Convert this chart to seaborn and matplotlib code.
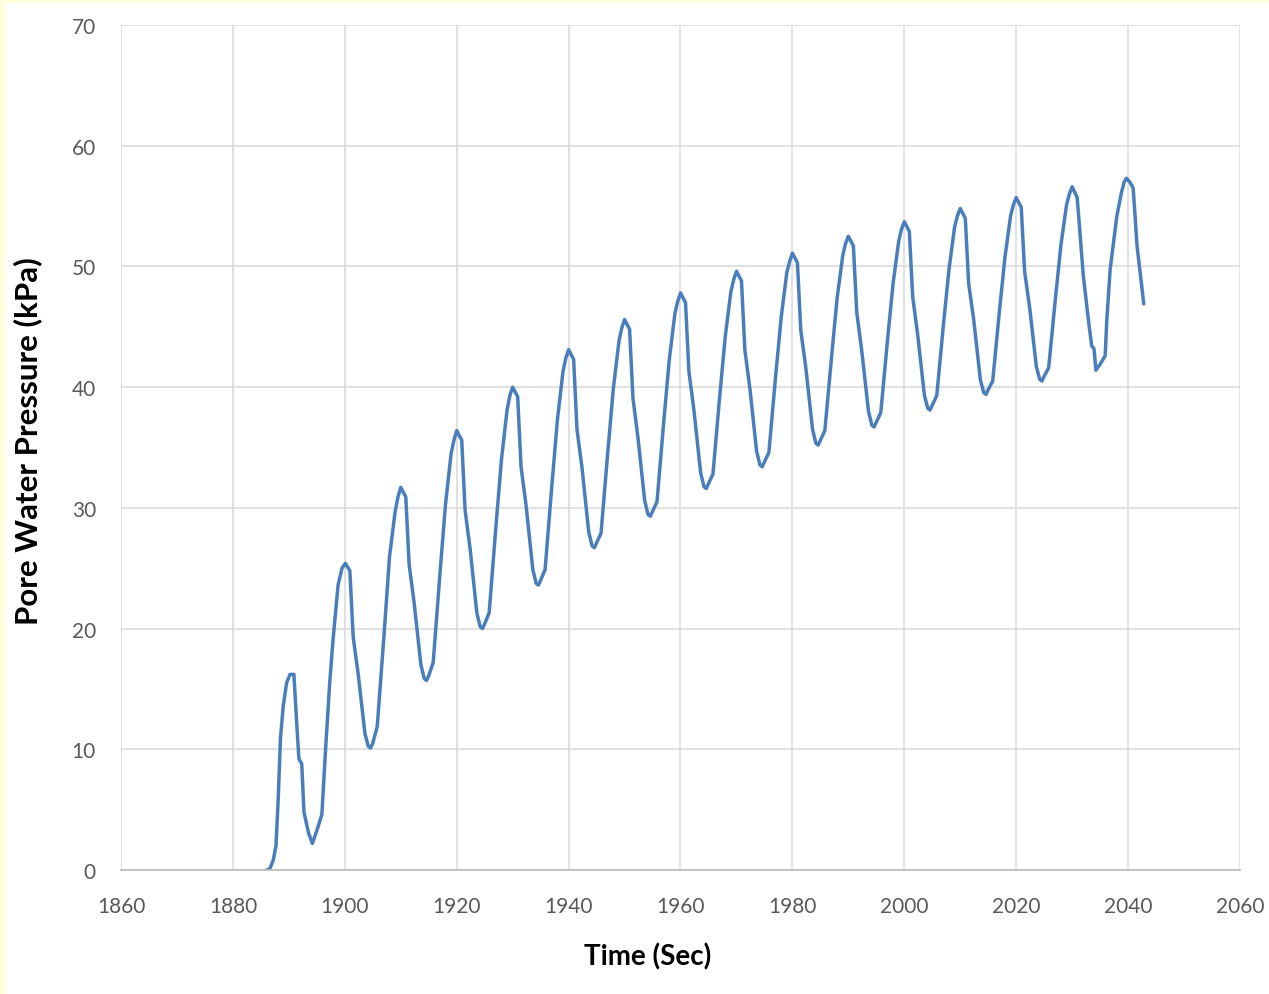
import matplotlib
matplotlib.use('Agg')
import matplotlib.pyplot as plt
from matplotlib.patches import Rectangle
import pandas as pd
import seaborn as sns

sns.set_theme(style='whitegrid')
plt.rcParams['font.family'] = ['Lato', 'DejaVu Sans']

# time (sec) and pore water pressure (kPa), one row per cycle
time_sec = [
    1886.0, 1886.6, 1887.2, 1887.7, 1888.1, 1888.5, 1889.0, 1889.6, 1890.2, 1890.9,
    1891.4, 1891.8, 1892.3, 1892.7, 1893.5, 1894.2, 1895.1, 1895.9, 1896.5, 1897.3, 1897.9, 1898.8, 1899.5,
    1900.1, 1900.9, 1901.5, 1902.4, 1903.6, 1904.2, 1904.6, 1905.0, 1905.8, 1907.0, 1908.0, 1909.0, 1909.5,
    1910.0, 1910.9, 1911.5, 1912.4, 1913.6, 1914.2, 1914.6, 1915.0, 1915.8, 1917.0, 1918.0, 1919.0, 1919.5,
    1920.0, 1920.9, 1921.5, 1922.4, 1923.6, 1924.2, 1924.6, 1925.0, 1925.8, 1927.0, 1928.0, 1929.0, 1929.5,
    1930.0, 1930.9, 1931.5, 1932.4, 1933.6, 1934.2, 1934.6, 1935.0, 1935.8, 1937.0, 1938.0, 1939.0, 1939.5,
    1940.0, 1940.9, 1941.5, 1942.4, 1943.6, 1944.2, 1944.6, 1945.0, 1945.8, 1947.0, 1948.0, 1949.0, 1949.5,
    1950.0, 1950.9, 1951.5, 1952.4, 1953.6, 1954.2, 1954.6, 1955.0, 1955.8, 1957.0, 1958.0, 1959.0, 1959.5,
    1960.0, 1960.9, 1961.5, 1962.4, 1963.6, 1964.2, 1964.6, 1965.0, 1965.8, 1967.0, 1968.0, 1969.0, 1969.5,
    1970.0, 1970.9, 1971.5, 1972.4, 1973.6, 1974.2, 1974.6, 1975.0, 1975.8, 1977.0, 1978.0, 1979.0, 1979.5,
    1980.0, 1980.9, 1981.5, 1982.4, 1983.6, 1984.2, 1984.6, 1985.0, 1985.8, 1987.0, 1988.0, 1989.0, 1989.5,
    1990.0, 1990.9, 1991.5, 1992.4, 1993.6, 1994.2, 1994.6, 1995.0, 1995.8, 1997.0, 1998.0, 1999.0, 1999.5,
    2000.0, 2000.9, 2001.5, 2002.4, 2003.6, 2004.2, 2004.6, 2005.0, 2005.8, 2007.0, 2008.0, 2009.0, 2009.5,
    2010.0, 2010.9, 2011.5, 2012.4, 2013.6, 2014.2, 2014.6, 2015.0, 2015.8, 2017.0, 2018.0, 2019.0, 2019.5,
    2020.0, 2020.9, 2021.5, 2022.4, 2023.6, 2024.2, 2024.6, 2025.0, 2025.8, 2027.0, 2028.0, 2029.0, 2029.5,
    2030.0, 2030.9, 2031.5, 2032.0, 2033.0, 2033.5, 2033.9, 2034.25, 2035.0, 2035.9, 2036.2, 2036.8, 2038.0, 2038.8, 2039.3,
    2039.7, 2040.3, 2040.9, 2041.2, 2041.6, 2042.8,
]
pwp_kpa = [
    0.0, 0.1, 0.8, 2.0, 5.9, 10.9, 13.6, 15.5, 16.2, 16.2,
    12.2, 9.2, 8.8, 4.8, 3.1, 2.2, 3.4, 4.6, 9.5, 15.5, 19.1, 23.6, 25.0,
    25.4, 24.8, 19.3, 16.2, 11.3, 10.25, 10.1, 10.5, 11.9, 19.4, 26.0, 29.7, 30.9,
    31.7, 30.9, 25.3, 22.1, 17.0, 15.85, 15.7, 16.1, 17.2, 24.5, 30.3, 34.5, 35.6,
    36.4, 35.6, 29.8, 26.6, 21.3, 20.15, 20.0, 20.4, 21.3, 28.4, 34.0, 38.1, 39.3,
    40.0, 39.2, 33.4, 30.2, 24.9, 23.75, 23.6, 24.0, 24.9, 31.8, 37.3, 41.3, 42.4,
    43.1, 42.3, 36.5, 33.3, 28.0, 26.85, 26.7, 27.1, 27.9, 34.6, 39.9, 43.8, 44.9,
    45.6, 44.8, 39.1, 35.8, 30.6, 29.45, 29.3, 29.7, 30.5, 37.1, 42.3, 46.1, 47.1,
    47.8, 47.0, 41.3, 38.1, 32.9, 31.75, 31.6, 32.0, 32.8, 39.2, 44.2, 47.9, 48.9,
    49.6, 48.8, 43.1, 39.9, 34.7, 33.55, 33.4, 33.8, 34.6, 40.9, 45.8, 49.5, 50.4,
    51.1, 50.3, 44.7, 41.6, 36.5, 35.35, 35.2, 35.6, 36.4, 42.5, 47.4, 50.9, 51.9,
    52.5, 51.7, 46.2, 43.0, 38.0, 36.85, 36.7, 37.1, 37.9, 43.9, 48.6, 52.1, 53.1,
    53.7, 52.9, 47.5, 44.3, 39.3, 38.25, 38.1, 38.5, 39.3, 45.2, 49.8, 53.3, 54.2,
    54.8, 54.0, 48.6, 45.6, 40.6, 39.55, 39.4, 39.8, 40.5, 46.3, 50.8, 54.2, 55.1,
    55.7, 54.9, 49.6, 46.6, 41.7, 40.65, 40.5, 40.9, 41.6, 47.3, 51.8, 55.1, 56.0,
    56.6, 55.7, 52.2, 49.2, 45.2, 43.4, 43.2, 41.4, 41.9, 42.6, 45.6, 49.8, 54.2, 56.1, 57.0,
    57.3, 57.0, 56.5, 54.5, 51.7, 46.9,
]
x_ticks = list(range(1860, 2061, 20))
y_ticks = list(range(0, 71, 10))

df = pd.DataFrame({'Time (Sec)': time_sec, 'Pore Water Pressure (kPa)': pwp_kpa})

fig = plt.figure(figsize=(12.69, 9.95), dpi=100, facecolor='#FFFFDC')
# white chart area leaving the thin yellow strip on the left and top edges
fig.patches.append(Rectangle((5 / 1269, 0), 1, 1 - 4 / 995, transform=fig.transFigure,
                             facecolor='white', edgecolor='none', zorder=-1))
ax = fig.add_axes([121 / 1269, 1 - 871 / 995, 1119 / 1269, 845 / 995])

sns.lineplot(data=df, x='Time (Sec)', y='Pore Water Pressure (kPa)', ax=ax,
             color='#4A7EBB', linewidth=2.5, estimator=None, sort=False)

ax.set_xlim(1860, 2060)
ax.set_ylim(0, 70)
ax.set_xticks(x_ticks)
ax.set_yticks(y_ticks)
ax.grid(True, color='#D9D9D9', linewidth=1.1)
ax.set_facecolor('white')
for side in ['top', 'right', 'left']:
    ax.spines[side].set_visible(False)
ax.spines['bottom'].set_color('#BFBFBF')
ax.spines['bottom'].set_linewidth(1.3)
ax.tick_params(axis='both', length=0, labelsize=15, labelcolor='#595959')
ax.tick_params(axis='x', pad=19)
ax.tick_params(axis='y', pad=18)

ax.set_xlabel('Time (Sec)', fontsize=20, fontweight='bold', color='black')
ax.set_ylabel('Pore Water Pressure (kPa)', fontsize=22.5, fontweight='bold', color='black')
ax.xaxis.set_label_coords((648 - 121) / 1119, (871 - 957) / 845)
ax.yaxis.set_label_coords((28 - 121) / 1119, (871 - 441) / 845)
ax.xaxis.label.set_va('center')
ax.yaxis.label.set_va('center')

fig.savefig('out.png', dpi=100, facecolor=fig.get_facecolor())
